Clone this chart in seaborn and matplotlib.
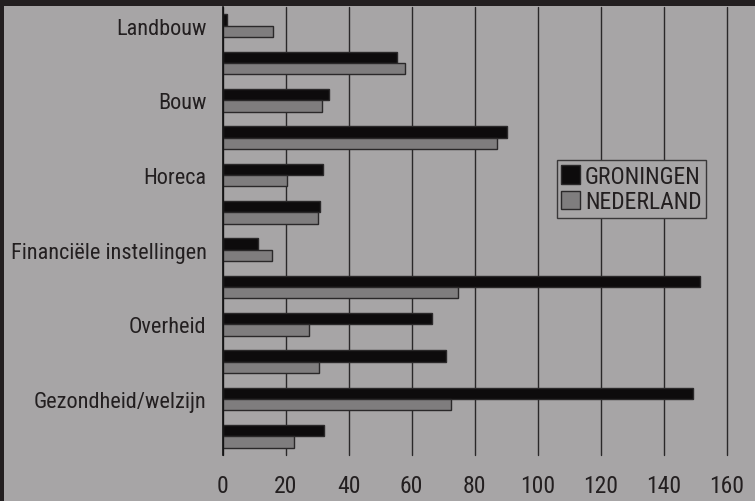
import matplotlib
matplotlib.use("Agg")
import matplotlib.pyplot as plt
import seaborn as sns
import pandas as pd
from matplotlib import font_manager
from matplotlib.patches import Rectangle

categories = ["Landbouw", "Industrie", "Bouw", "Handel", "Horeca",
              "Vervoer/communicatie", "Financiële instellingen",
              "Zakelijke dienstverlening", "Overheid", "Onderwijs",
              "Gezondheid/welzijn", "Overige dienstverlening"]
shown_labels = [True, False, True, False, True, False, True, False, True, False, True, False]
groningen = [1.4, 55.5, 33.8, 90.1, 32.0, 30.9, 11.2, 151.3, 66.4, 70.9, 149.3, 32.3]
nederland = [15.9, 58.0, 31.4, 86.9, 20.5, 30.2, 15.6, 74.7, 27.4, 30.6, 72.5, 22.7]
series = ["GRONINGEN", "NEDERLAND"]
xticks = [0, 20, 40, 60, 80, 100, 120, 140, 160]

names = {f.name for f in font_manager.fontManager.ttflist}
fam = "DejaVu Sans"
for cand in ["Roboto Condensed", "Archivo Narrow", "IBM Plex Sans Condensed",
             "Open Sans Condensed", "Liberation Sans Narrow"]:
    if cand in names:
        fam = cand
        break

df = pd.DataFrame({
    "cat": categories * 2,
    "val": groningen + nederland,
    "reg": [series[0]] * len(categories) + [series[1]] * len(categories),
})

sns.set_theme(style="white")
plt.rcParams["font.family"] = [fam, "DejaVu Sans"]
plt.rcParams["font.weight"] = "normal"

FS = 17
FSY = 16
BG = "#a7a5a6"
DARK = "#231f20"
TXT = "#231f20"
fig = plt.figure(figsize=(7.55, 5.02), dpi=100, facecolor=DARK)
fig.patches.append(Rectangle((4 / 755, 0), 1, 1 - 7 / 502, transform=fig.transFigure,
                             facecolor=BG, edgecolor="none", zorder=-10))
ax = fig.add_axes([222.5 / 755, 1 - 456 / 502, (727 - 222.5) / 755, (456 - 8) / 502])
ax.set_zorder(5)
ax.set_facecolor(BG)

sns.barplot(data=df, y="cat", x="val", hue="reg", order=categories, hue_order=series,
            palette=["#0d0b0c", "#7f7d7e"], orient="h", width=0.6, ax=ax,
            edgecolor="#2a2829", linewidth=1.0, legend=False, saturation=1)

ax.set_xlim(0, 160)
ax.set_ylim(len(categories) - 0.5, -0.5)
ax.set_xticks(xticks)
ax.set_xticklabels([str(t) for t in xticks], fontsize=FS, color=TXT)
ax.set_yticks(range(len(categories)))
ax.set_yticklabels([c if s else "" for c, s in zip(categories, shown_labels)],
                   fontsize=FSY, color=TXT)
ax.tick_params(axis="both", length=0)
ax.tick_params(axis="x", pad=14)
ax.tick_params(axis="y", pad=11.5)
ax.set_xlabel("")
ax.set_ylabel("")
for s in ["top", "right", "bottom"]:
    ax.spines[s].set_visible(False)
ax.spines["left"].set_color("#111111")
ax.spines["left"].set_linewidth(1.2)
ax.xaxis.grid(True, color="#2a2829", linewidth=1.0)
for gl in ax.get_xgridlines():
    gl.set_clip_on(False)
ax.set_axisbelow(True)

handles = [Rectangle((0, 0), 1, 1, facecolor="#0d0b0c", edgecolor="#2a2829"),
           Rectangle((0, 0), 1, 1, facecolor="#7f7d7e", edgecolor="#2a2829")]
leg = ax.legend(handles, series, loc="upper left",
                bbox_to_anchor=((556.7 - 222.5) / 504.5, (456 - 161) / 448),
                frameon=True, fancybox=False, fontsize=FS, handlelength=0.8,
                handleheight=0.8, handletextpad=0.2, borderpad=0.2,
                labelspacing=0.1, borderaxespad=0)
for t in leg.get_texts():
    t.set_color(TXT)
leg.get_frame().set_facecolor(BG)
leg.get_frame().set_edgecolor("#3a3839")
leg.get_frame().set_linewidth(1.0)
leg.get_frame().set_alpha(1)

fig.savefig("out.png", dpi=100, facecolor=DARK)
